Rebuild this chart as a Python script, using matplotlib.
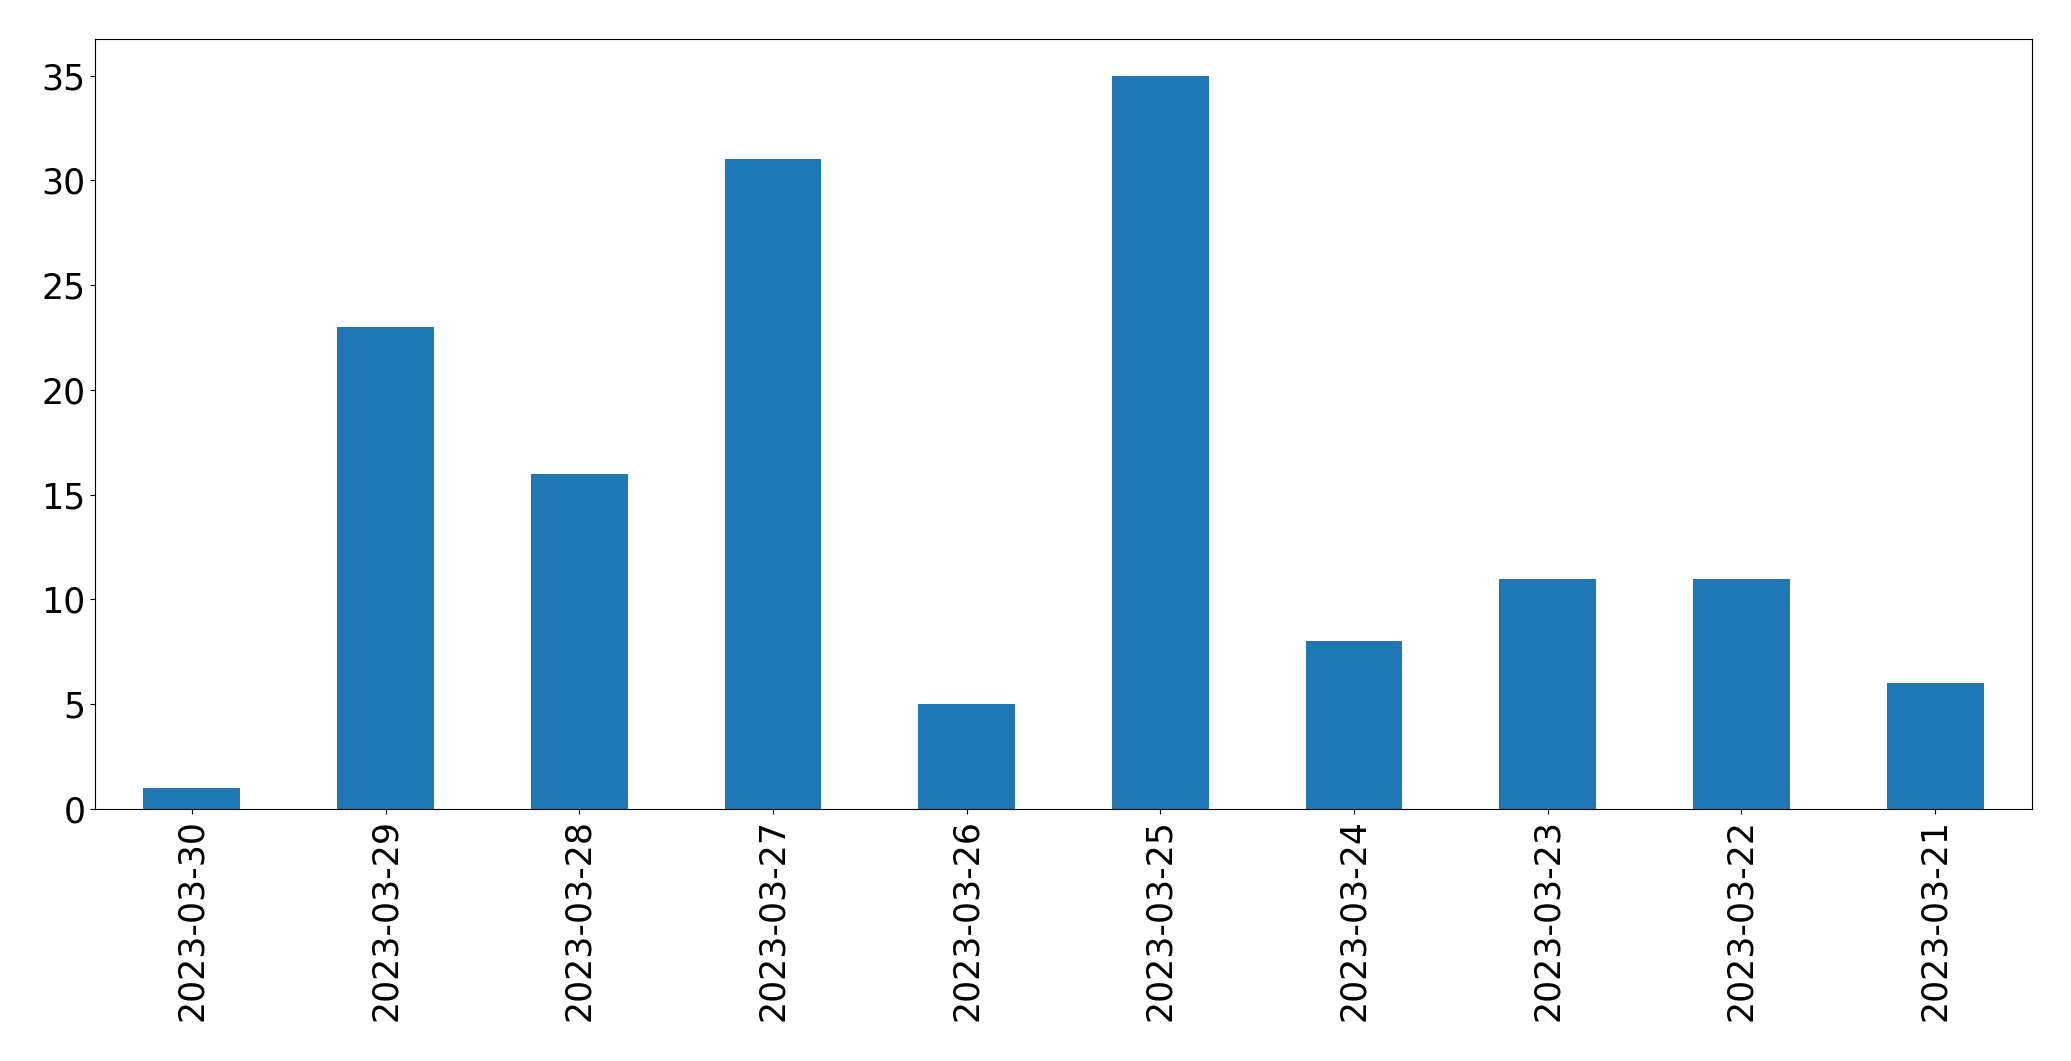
import matplotlib
matplotlib.use("Agg")
import matplotlib.pyplot as plt
import numpy as np

# dates in the order shown, newest first
dates = ['2023-03-30', '2023-03-29', '2023-03-28', '2023-03-27', '2023-03-26',
         '2023-03-25', '2023-03-24', '2023-03-23', '2023-03-22', '2023-03-21']
counts = [1, 23, 16, 31, 5, 35, 8, 11, 11, 6]

fig = plt.figure(figsize=(20.71, 10.61), dpi=100)
ax = fig.add_axes([95 / 2071, 1 - 809 / 1061, (2032 - 95) / 2071, (809 - 39) / 1061])

x = np.arange(len(dates))
ax.bar(x, counts, width=0.5, color='#1f77b4')
ax.set_xlim(-0.5, len(dates) - 0.5)
ax.set_ylim(0, 36.75)
ax.set_xticks(x)
ax.set_xticklabels(dates, rotation=90)
ax.tick_params(axis='both', labelsize=25)

fig.savefig('out.png', dpi=100)
